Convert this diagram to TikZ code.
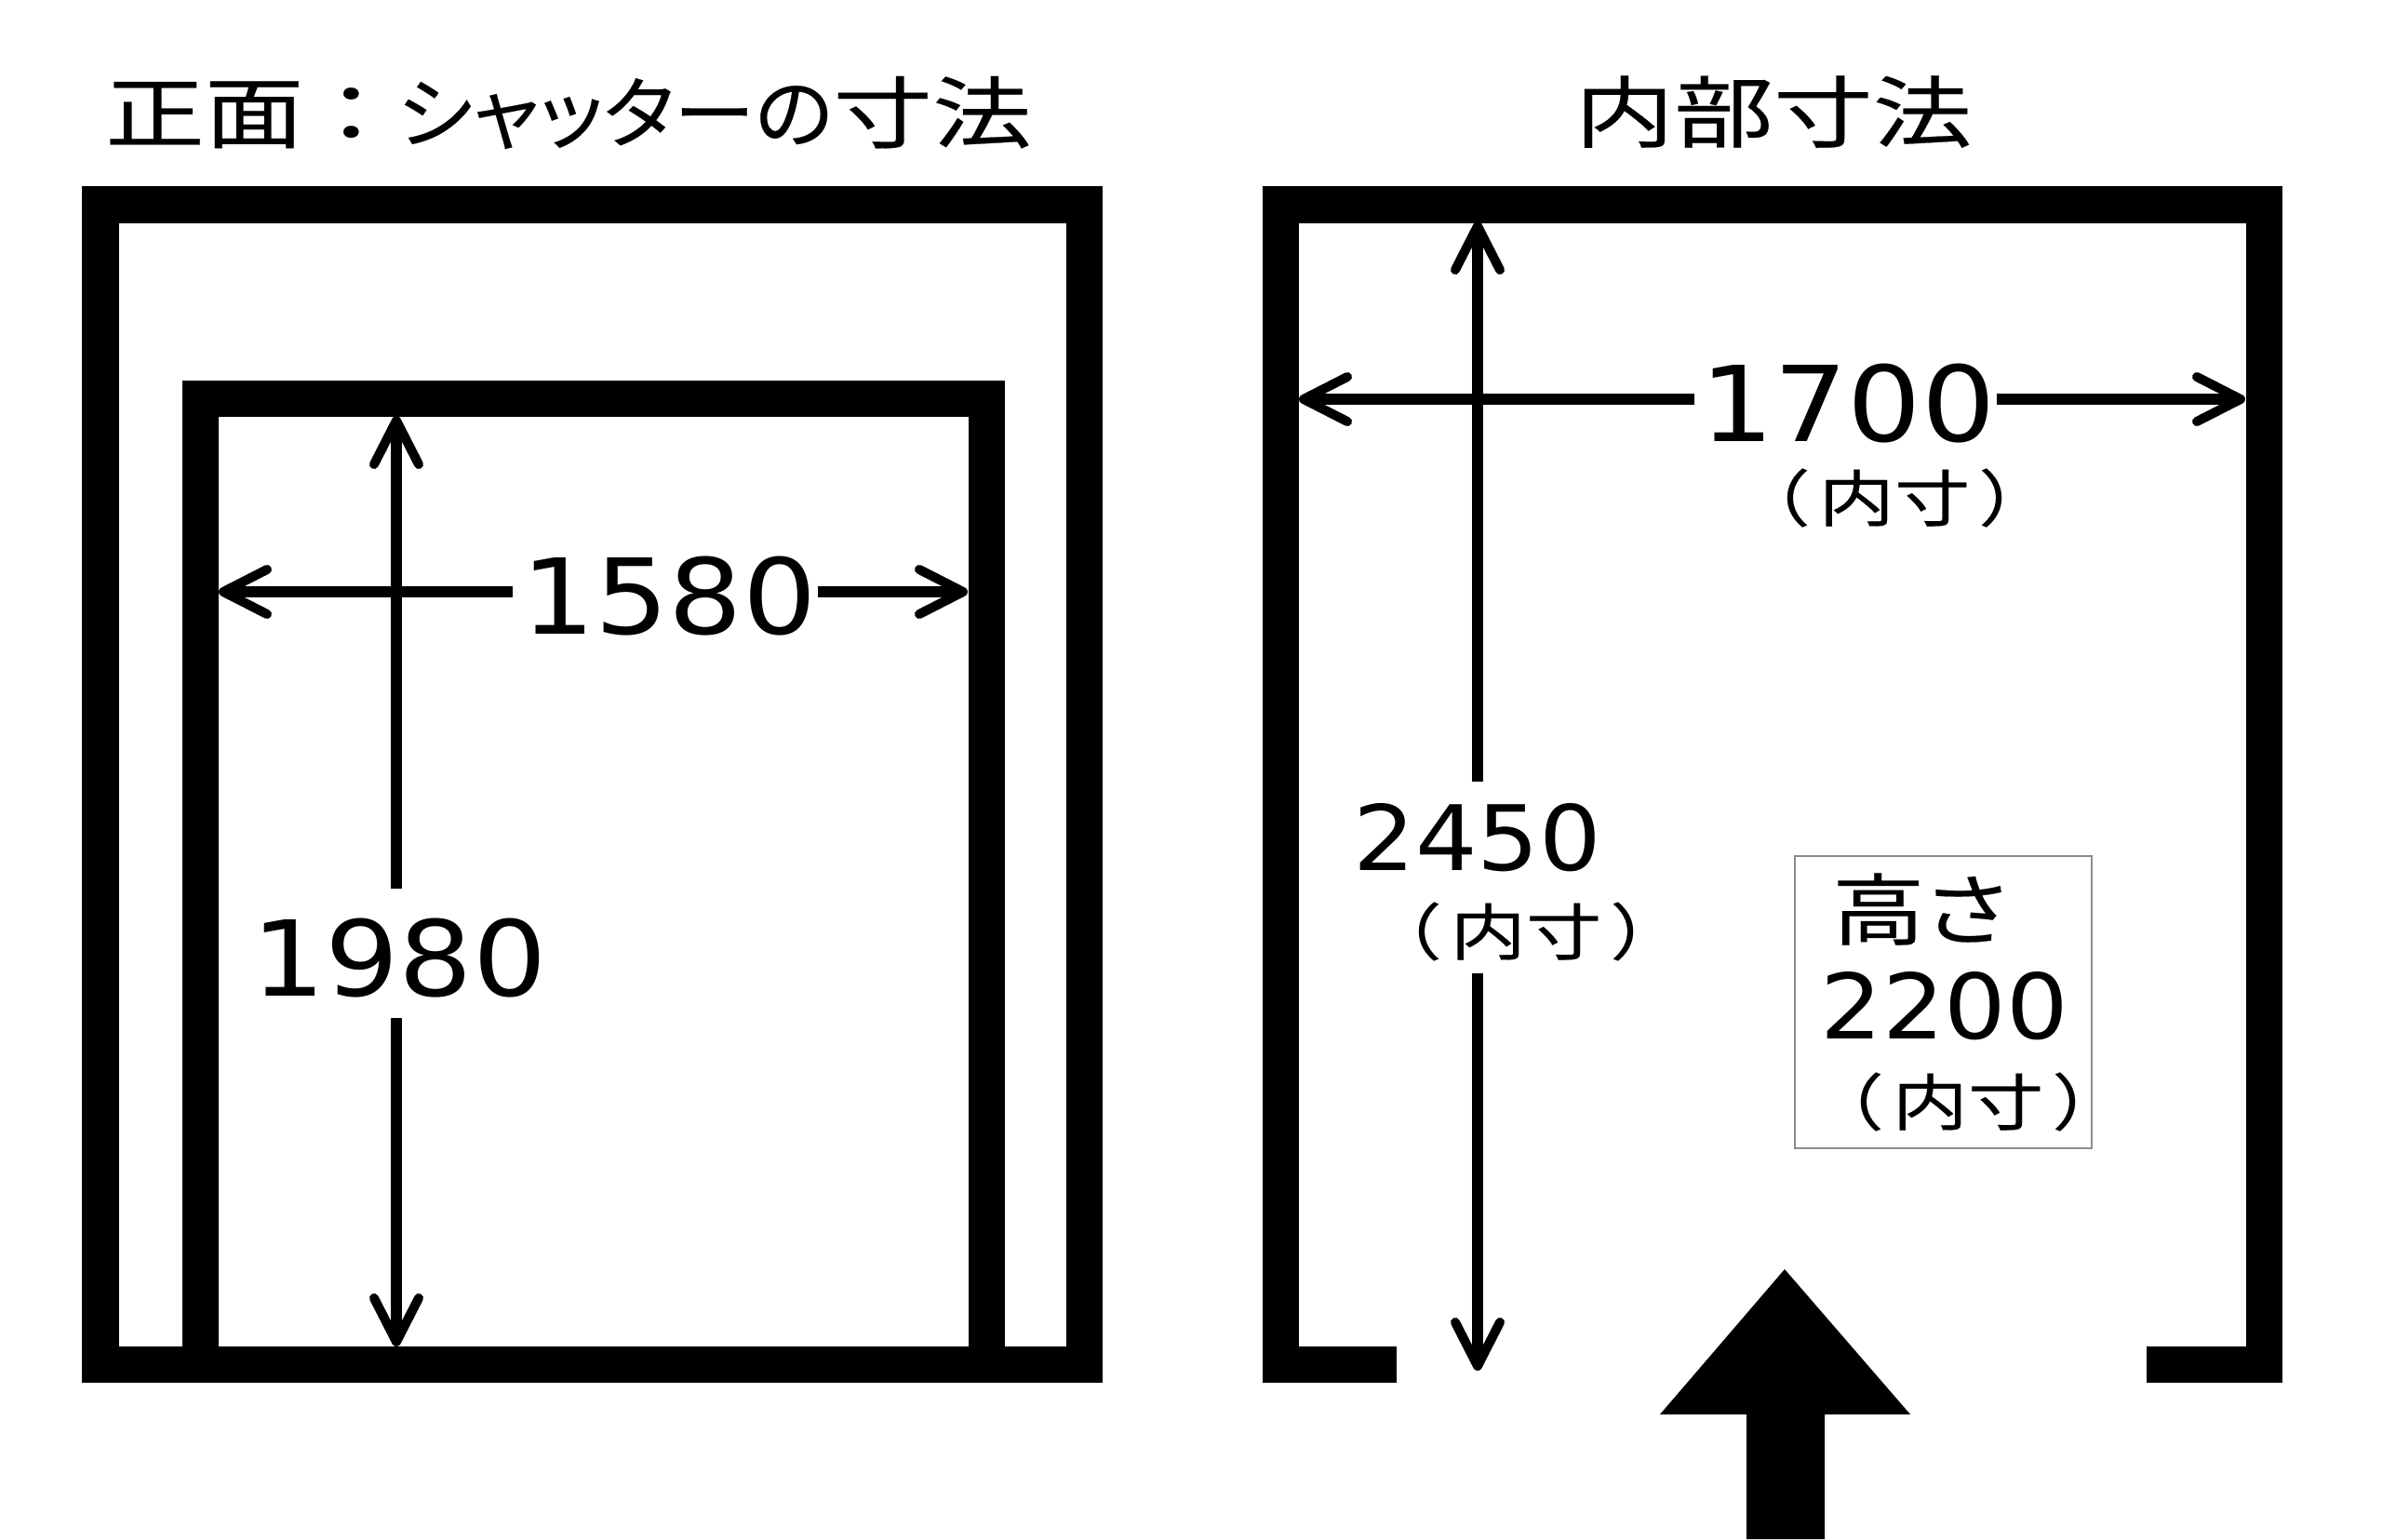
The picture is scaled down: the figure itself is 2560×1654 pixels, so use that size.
\documentclass[tikz,border=0pt]{standalone}
\usepackage{fontspec}
\setmainfont{DejaVu Sans}
\newfontfamily\cjk[FakeBold=0.25]{Noto Sans CJK JP}
\newfontfamily\cjkp[RawFeature=+palt,FakeBold=0.25]{Noto Sans CJK JP}
\usetikzlibrary{arrows.meta}
\newcommand{\insidenote}{（\kern.11em 内寸\kern.11em ）}
\tikzset{
    wall/.style={line width=0.39cm},
    dimline/.style={line width=0.115cm,>={Straight Barb[length=0.47cm,width=0.48cm,line width=0.1cm,round]}},
    numlabel/.style={inner sep=0pt,xscale=1.11,transform shape,font=\fontsize{32}{32}\selectfont},
    numsmall/.style={inner sep=0pt,xscale=1.08,transform shape,font=\fontsize{27.6}{28}\selectfont},
    notelabel/.style={inner sep=0pt,xscale=1.23,transform shape,font=\fontsize{18.8}{19}\selectfont\cjk},
    titlelabel/.style={inner sep=0pt,xscale=1.27,transform shape,font=\fontsize{23.9}{24}\selectfont\cjkp}
}
\begin{document}
\begin{tikzpicture}[x=0.01cm,y=-0.01cm]
    \useasboundingbox (0,0) rectangle (2560,1654);

    % Front view: shutter
    \begin{scope}
        \node[titlelabel] (fronttitle) at (611,121) {正面 ：\kern.215em \scalebox{0.82}[1]{シャッターの}寸法};
        \draw[wall] (108,220) rectangle (1165.5,1466);
        \draw[wall] (215.5,1466) -- (215.5,428.5) -- (1060,428.5) -- (1060,1466);
        \node[numlabel] (width1580) at (719,641) {1580};
        \node[numlabel] (height1980) at (429,1030) {1980};
        \coordinate (shutterleft) at (235,636);
        \coordinate (shutterright) at (1040,636);
        \coordinate (shuttertop) at (426,447);
        \coordinate (shutterbottom) at (426,1447);
        \draw[dimline,<-,shorten >=0.08cm] (shutterleft) -- (shutterleft -| width1580.west);
        \draw[dimline,<-] (shutterright) -- (shutterright -| width1580.east);
        \draw[dimline,<-,shorten >=0.32cm] (shuttertop) -- (shuttertop |- height1980.north);
        \draw[dimline,<-,shorten >=0.21cm] (shutterbottom) -- (shutterbottom |- height1980.south);
    \end{scope}

    % Inside of the unit
    \begin{scope}
        \node[titlelabel] (insidetitle) at (1906,120) {内部寸法};
        \draw[wall] (1501,1466) -- (1376.5,1466) -- (1376.5,220) -- (2433,220) -- (2433,1466) -- (2307,1466);
        \node[numlabel] (width1700) at (1986,433.5) {1700};
        \node[notelabel] (widthnote) at (2036,535) {\insidenote};
        \node[numsmall] (depth2450) at (1588,900) {2450};
        \node[notelabel] (depthnote) at (1640,1001) {\insidenote};
        \coordinate (insideleft) at (1396,429);
        \coordinate (insideright) at (2413,429);
        \coordinate (insidetop) at (1588,238);
        \coordinate (insidebottom) at (1588,1473);
        \draw[dimline,<-,shorten >=0.05cm] (insideleft) -- (insideleft -| width1700.west);
        \draw[dimline,<-] (insideright) -- (insideright -| width1700.east);
        \draw[dimline,<-,shorten >=0.23cm] (insidetop) -- (insidetop |- depth2450.north);
        \draw[dimline,<-,shorten >=0.13cm] (insidebottom) -- (insidebottom |- depthnote.south);

        % Height box
        \node[draw=black!45,line width=0.02cm,minimum width=3.19cm,minimum height=3.14cm] (heightbox) at (2088.5,1077) {};
        \node[titlelabel,xscale=0.93] (heighttitle) at (2063,977) {高さ};
        \node[numsmall] (height2200) at (2090,1081) {2200};
        \node[notelabel] (heightnote) at (2115,1184) {\insidenote};

        % Way in
        \fill (1918,1364) -- (2053,1520) -- (1961,1520) -- (1961,1654) -- (1877,1654) -- (1877,1520) -- (1784,1520) -- cycle;
    \end{scope}
\end{tikzpicture}
\end{document}
